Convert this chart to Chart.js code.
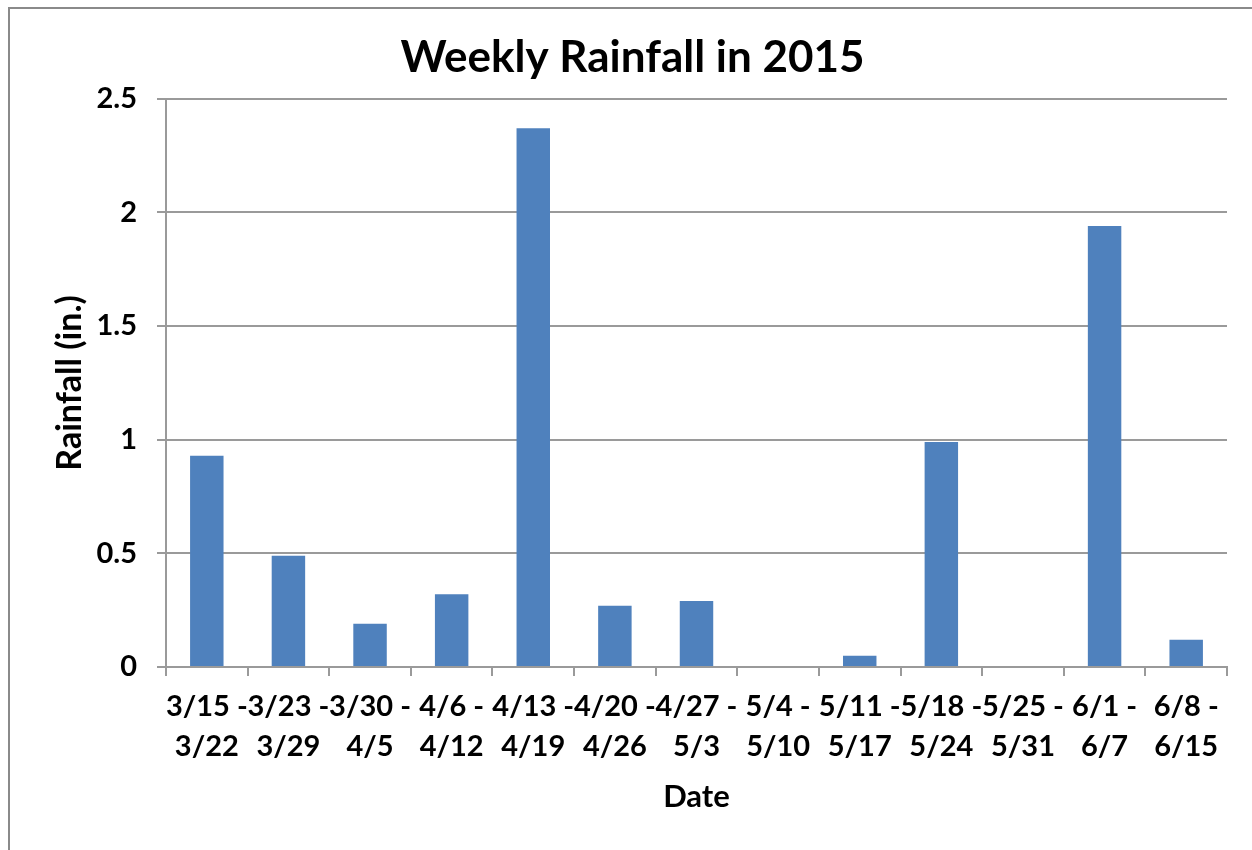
<!DOCTYPE html>
<html>
<head>
<meta charset="utf-8">
<script src="https://cdn.jsdelivr.net/npm/chart.js@4/dist/chart.umd.min.js"></script>
<style>
  html, body { margin: 0; padding: 0; background: #fff; overflow: hidden; }
  #wrap { position: relative; width: 1252px; height: 850px; }
  #frame { position: absolute; left: 8px; top: 7px; width: 1300px; height: 900px; border: 2px solid #8a8a8a; box-sizing: border-box; }
  canvas { position: absolute; left: 0; top: 0; }
</style>
</head>
<body>
<div id="wrap">
  <div id="frame"></div>
  <canvas id="chart" width="1252" height="850"></canvas>
</div>
<script>
const weeks = [
  ['3/15 -', '3/22'], ['3/23 -', '3/29'], ['3/30 -', '4/5'], ['4/6 -', '4/12'],
  ['4/13 -', '4/19'], ['4/20 -', '4/26'], ['4/27 -', '5/3'], ['5/4 -', '5/10'],
  ['5/11 -', '5/17'], ['5/18 -', '5/24'], ['5/25 -', '5/31'], ['6/1 -', '6/7'],
  ['6/8 -', '6/15']
]
const rainfall = [0.93, 0.49, 0.19, 0.32, 2.37, 0.27, 0.29, 0, 0.05, 0.99, 0, 1.94, 0.12]
const yTicks = [0, 0.5, 1, 1.5, 2, 2.5]

const fontFamily = 'Lato, "Open Sans", sans-serif'
const gridGray = '#9a9a9a'

const ctx = document.getElementById('chart').getContext('2d')
new Chart(ctx, {
  type: 'bar',
  data: {
    labels: weeks,
    datasets: [{
      label: 'Rainfall',
      data: rainfall,
      backgroundColor: '#4f81bd',
      barPercentage: 0.41,
      categoryPercentage: 1
    }]
  },
  options: {
    responsive: false,
    animation: false,
    // left padding keeps the title centred on the framed chart
    layout: { padding: { left: 38, right: 25, top: 0, bottom: 0 } },
    plugins: {
      legend: { display: false },
      tooltip: { enabled: false },
      title: {
        display: true,
        text: 'Weekly Rainfall in 2015',
        color: '#000',
        font: { family: fontFamily, size: 44, weight: 'bold', lineHeight: 1.2 },
        padding: { top: 31, bottom: 15 }
      }
    },
    scales: {
      x: {
        afterFit: scale => { scale.height = 183 },
        grid: {
          display: true,
          offset: true,
          drawOnChartArea: false,
          drawTicks: true,
          tickLength: 9,
          color: gridGray,
          lineWidth: 2
        },
        border: { display: true, color: gridGray, width: 2 },
        ticks: {
          color: '#000',
          font: { family: fontFamily, size: 29, weight: 'bold', lineHeight: 1.36 },
          maxRotation: 0,
          minRotation: 0,
          autoSkip: false,
          padding: 11
        },
        title: {
          display: true,
          text: 'Date',
          color: '#000',
          font: { family: fontFamily, size: 31, weight: 'bold', lineHeight: 1.2 },
          padding: { top: 0, bottom: 34 }
        }
      },
      y: {
        min: 0,
        max: 2.5,
        afterFit: scale => { scale.width = 128 },
        afterBuildTicks: scale => { scale.ticks = yTicks.map(v => ({ value: v })) },
        grid: {
          color: gridGray,
          lineWidth: 2,
          drawTicks: true,
          tickLength: 9
        },
        border: { display: true, color: gridGray, width: 2 },
        ticks: {
          color: '#000',
          font: { family: fontFamily, size: 29, weight: 'bold' },
          padding: 20,
          callback: value => String(value)
        },
        title: {
          display: true,
          text: 'Rainfall (in.)',
          color: '#000',
          font: { family: fontFamily, size: 34, weight: 'bold', lineHeight: 1.2 },
          padding: { top: 12, bottom: 0 }
        }
      }
    }
  }
})
</script>
</body>
</html>
